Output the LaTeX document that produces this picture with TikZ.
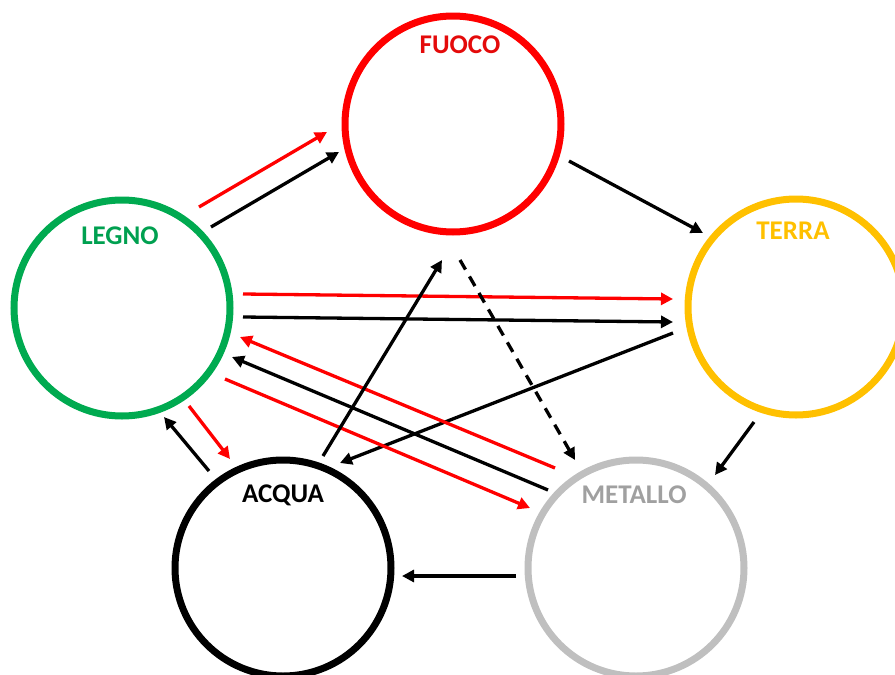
\documentclass[tikz,border=0pt]{standalone}
\usepackage{fontspec}
\setmainfont{Carlito}
\usetikzlibrary{calc,arrows.meta}
\definecolor{cred}{RGB}{255,0,0}
\definecolor{cgreen}{RGB}{0,170,80}
\definecolor{cgold}{RGB}{255,192,0}
\definecolor{cgray}{RGB}{191,191,191}
\definecolor{tred}{RGB}{228,10,10}
\definecolor{tgreen}{RGB}{0,160,80}
\definecolor{tgray}{RGB}{160,160,160}
\tikzset{
  elem/.style={circle,draw=#1,line width=7pt,minimum size=216pt,inner sep=0pt},
  lbl/.style={font=\bfseries\fontsize{27}{30}\selectfont,text=#1,inner sep=0pt},
  arr/.style={line width=3.3pt,draw=#1,-{Triangle[length=12pt,width=12pt]}},
  arr/.default=black
}
\begin{document}
\begin{tikzpicture}[x=1pt,y=-1pt]
\useasboundingbox (0,0) rectangle (895,675);
\node[elem=cred] (fuoco) at (453,124) {};
\node[elem=cgreen] (legno) at (122,308) {};
\node[elem=cgold] (terra) at (796,307) {};
\node[elem=black] (acqua) at (283,568) {};
\node[elem=cgray] (metallo) at (636,568) {};
\node[lbl=tred] (lf) at (460,45) {FUOCO};
\node[lbl=tgreen] (ll) at (120,236) {LEGNO};
\node[lbl=cgold] (lt) at (793,231) {TERRA};
\node[lbl=black] (la) at (283,495) {ACQUA};
\node[lbl=tgray] (lm) at (634,495) {METALLO};
% Legno -> Fuoco
\draw[arr=cred] ($(legno)+(77,-101)$) -- ($(fuoco)+(-126,8)$);
\draw[arr] ($(legno)+(89,-81)$) -- ($(fuoco)+(-114,28)$);
% Legno -> Terra
\draw[arr=cred] ($(legno)+(121,-14)$) -- ($(terra)+(-123,-8)$);
\draw[arr] ($(legno)+(121,9)$) -- ($(terra)+(-123,15)$);
% Terra -> Acqua
\draw[arr] ($(terra)+(-123,26)$) -- ($(acqua)+(57,-105)$);
% Metallo -> Legno
\draw[arr=cred] ($(metallo)+(-81,-100)$) -- ($(legno)+(118,29)$);
\draw[arr] ($(metallo)+(-88,-78)$) -- ($(legno)+(110,49)$);
% Legno -> Metallo
\draw[arr=cred] ($(legno)+(103,71)$) -- ($(metallo)+(-106,-60)$);
% Fuoco -> Terra
\draw[arr] ($(fuoco)+(116,37)$) -- ($(terra)+(-93,-74)$);
% Fuoco -> Metallo (dashed)
\draw[arr,dash pattern=on 11pt off 8pt] ($(fuoco)+(7,136)$) -- ($(metallo)+(-61,-108)$);
% Acqua -> Fuoco
\draw[arr] ($(acqua)+(40,-112)$) -- ($(fuoco)+(-11,136)$);
% Legno -> Acqua
\draw[arr=cred] ($(legno)+(67,98)$) -- ($(acqua)+(-53,-109)$);
% Acqua -> Legno
\draw[arr] ($(acqua)+(-74,-97)$) -- ($(legno)+(42,109)$);
% Terra -> Metallo
\draw[arr] ($(terra)+(-42,115)$) -- ($(metallo)+(79,-93)$);
% Metallo -> Acqua
\draw[arr] ($(metallo)+(-120,8)$) -- ($(acqua)+(119,8)$);
\end{tikzpicture}
\end{document}
